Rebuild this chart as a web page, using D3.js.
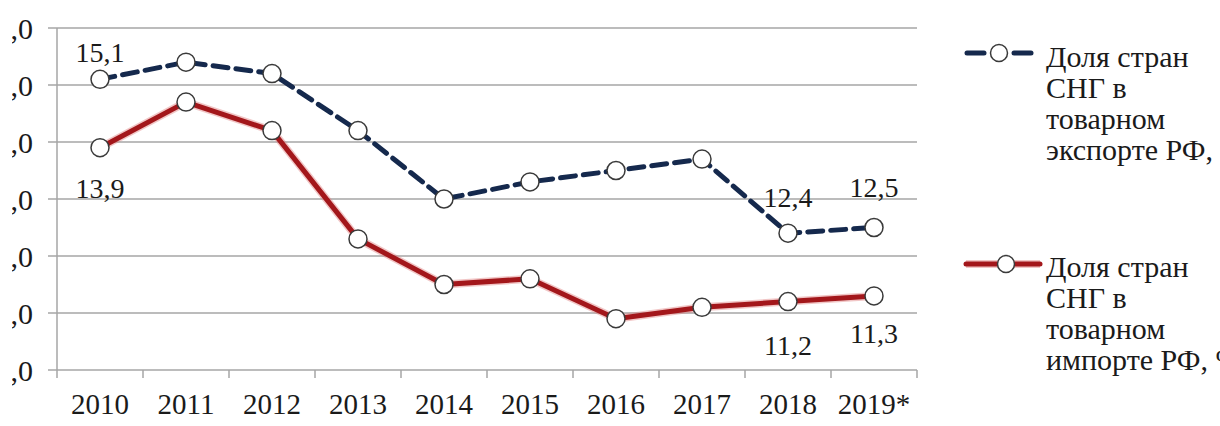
<!DOCTYPE html>
<html>
<head>
<meta charset="utf-8">
<script src="https://cdn.jsdelivr.net/npm/d3@7/dist/d3.min.js"></script>
<style>
  html, body { margin: 0; padding: 0; background: #fff; overflow: hidden; }
  svg { display: block; }
  text { font-family: "Liberation Serif", "Times New Roman", serif; fill: #1a1a1a; }
</style>
</head>
<body>
<svg id="chart" width="1220" height="426"></svg>
<script>
// ---- data ----
const years = ["2010", "2011", "2012", "2013", "2014", "2015", "2016", "2017", "2018", "2019*"];
const exportShare = [15.1, 15.4, 15.2, 14.2, 13.0, 13.3, 13.5, 13.7, 12.4, 12.5];
const importShare = [13.9, 14.7, 14.2, 12.3, 11.5, 11.6, 10.9, 11.1, 11.2, 11.3];
const yTicks = [10, 11, 12, 13, 14, 15, 16];
const seriesNames = [
  ["Доля стран", "СНГ в", "товарном", "экспорте РФ, %"],
  ["Доля стран", "СНГ в", "товарном", "импорте РФ, %"]
];
// data labels shown: [series (0 export, 1 import), year index]
const shownLabels = [[0, 0], [1, 0], [0, 8], [0, 9], [1, 8], [1, 9]];

// ---- layout ----
const labelDy = { "0-0": -17, "1-0": 50, "0-8": -26, "0-9": -31, "1-8": 53, "1-9": 47 };
const fmt = v => v.toFixed(1).replace(".", ",");

const svg = d3.select("#chart");
const x = d3.scaleBand().domain(years).range([57, 917]).padding(0);
const y = d3.scaleLinear().domain([10, 16]).range([370, 28]);
const cx = d => x(d) + x.bandwidth() / 2;

const gridColor = "#a6a6a6";
const navy = "#15294d";
const red = "#a3171b";

// the reference image is cropped on the left: only the end of the y labels shows
svg.append("defs").append("clipPath").attr("id", "leftCrop")
  .append("rect").attr("x", 12).attr("y", 0).attr("width", 1208).attr("height", 426);

// gridlines (with small left ticks)
svg.append("g").selectAll("line").data(yTicks).join("line")
  .attr("x1", 48).attr("x2", 917)
  .attr("y1", d => y(d)).attr("y2", d => y(d))
  .attr("stroke", gridColor).attr("stroke-width", 1.5);

// left axis
svg.append("line").attr("x1", 57).attr("x2", 57)
  .attr("y1", y(16)).attr("y2", y(10))
  .attr("stroke", gridColor).attr("stroke-width", 1.5);

// x axis ticks at band boundaries
const bounds = years.map(d => x(d)).concat([x.range()[1]]);
svg.append("g").selectAll("line").data(bounds).join("line")
  .attr("x1", d => d).attr("x2", d => d)
  .attr("y1", y(10)).attr("y2", y(10) + 8)
  .attr("stroke", gridColor).attr("stroke-width", 1.5);

// y labels
svg.append("g").attr("clip-path", "url(#leftCrop)")
  .selectAll("text").data(yTicks).join("text")
  .attr("x", 33).attr("y", d => y(d)).attr("dy", "0.35em")
  .attr("text-anchor", "end").attr("font-size", 30)
  .text(d => fmt(d));

// x labels
svg.append("g").selectAll("text").data(years).join("text")
  .attr("x", d => cx(d)).attr("y", 414)
  .attr("text-anchor", "middle").attr("font-size", 29)
  .text(d => d);

const line = d3.line().x((d, i) => cx(years[i])).y(d => y(d));

// import line (red, with soft halo)
svg.append("path").datum(importShare).attr("d", line)
  .attr("fill", "none").attr("stroke", "#e08080").attr("stroke-opacity", 0.45)
  .attr("stroke-width", 8).attr("stroke-linejoin", "round");
svg.append("path").datum(importShare).attr("d", line)
  .attr("fill", "none").attr("stroke", red)
  .attr("stroke-width", 5).attr("stroke-linejoin", "round");

// export line (navy dashed)
svg.append("path").datum(exportShare).attr("d", line)
  .attr("fill", "none").attr("stroke", navy)
  .attr("stroke-width", 5).attr("stroke-dasharray", "15,8")
  .attr("stroke-linecap", "round").attr("stroke-linejoin", "round");

// markers
function markers(data) {
  svg.append("g").selectAll("circle").data(data).join("circle")
    .attr("cx", (d, i) => cx(years[i])).attr("cy", d => y(d))
    .attr("r", 9).attr("fill", "#fff")
    .attr("stroke", "#3a3a3a").attr("stroke-width", 1.5);
}
markers(importShare);
markers(exportShare);

// data labels
const seriesData = [exportShare, importShare];
svg.append("g").selectAll("text").data(shownLabels).join("text")
  .attr("x", d => cx(years[d[1]]))
  .attr("y", d => y(seriesData[d[0]][d[1]]) + labelDy[d[0] + "-" + d[1]])
  .attr("text-anchor", "middle").attr("font-size", 28)
  .text(d => fmt(seriesData[d[0]][d[1]]));

// legend
const legendY = [53, 264];
const legendText = [67, 277];
// export legend symbol: two dashes around a marker
[[967, 984], [1014, 1031]].forEach(seg => {
  svg.append("line").attr("x1", seg[0]).attr("x2", seg[1])
    .attr("y1", legendY[0]).attr("y2", legendY[0])
    .attr("stroke", navy).attr("stroke-width", 5).attr("stroke-linecap", "round");
});
svg.append("circle").attr("cx", 999).attr("cy", legendY[0]).attr("r", 8.5)
  .attr("fill", "#fff").attr("stroke", "#3a3a3a").attr("stroke-width", 1.5);
// import legend symbol
svg.append("line").attr("x1", 966).attr("x2", 1040)
  .attr("y1", legendY[1]).attr("y2", legendY[1])
  .attr("stroke", "#e08080").attr("stroke-opacity", 0.45).attr("stroke-width", 8);
svg.append("line").attr("x1", 966).attr("x2", 1040)
  .attr("y1", legendY[1]).attr("y2", legendY[1])
  .attr("stroke", red).attr("stroke-width", 5).attr("stroke-linecap", "round");
svg.append("circle").attr("cx", 1006).attr("cy", legendY[1]).attr("r", 8.5)
  .attr("fill", "#fff").attr("stroke", "#3a3a3a").attr("stroke-width", 1.5);

seriesNames.forEach((lines, s) => {
  const t = svg.append("text").attr("font-size", 30);
  lines.forEach((ln, i) => {
    t.append("tspan").attr("x", 1046).attr("y", legendText[s] + i * 31).text(ln);
  });
});
</script>
</body>
</html>
